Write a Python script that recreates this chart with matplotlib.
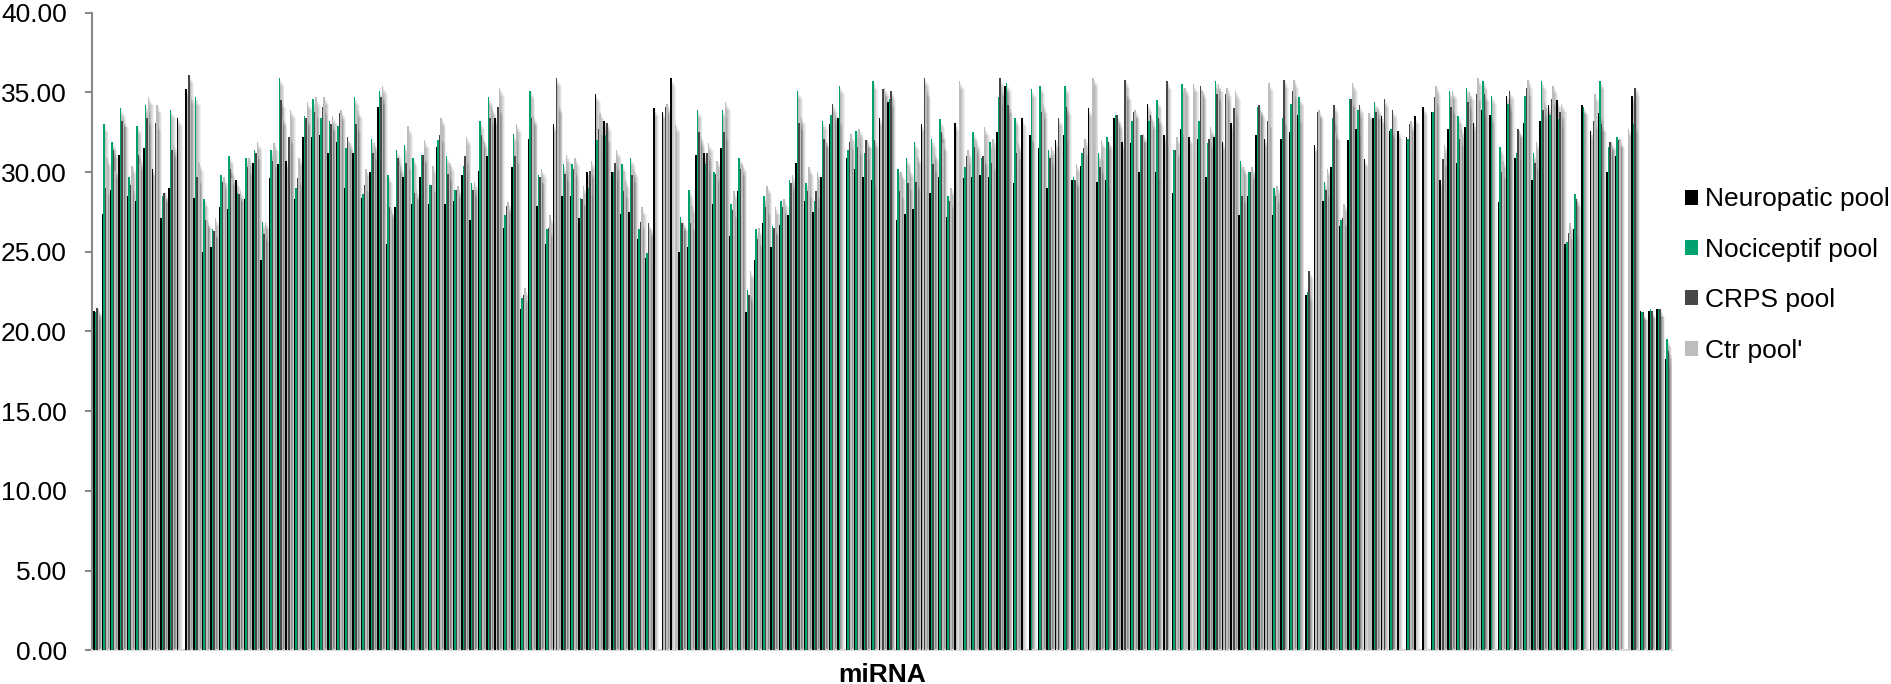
import numpy as np
import matplotlib
matplotlib.use("Agg")
import matplotlib.pyplot as plt

plt.rcParams['font.family'] = ['Liberation Sans', 'DejaVu Sans']

nan = np.nan

# Ct values per miRNA for each pool (blank cells kept as nan)
neuropatic = [
    21.3, 27.4, 28.9, 31.1, 28.5, 28.2, 31.5, 30.2, 27.1, 29.0,
    33.4, 35.2, 28.4, 25.0, 25.3, 27.8, 27.7, 29.5, 28.3, 30.6,
    24.5, 29.6, 30.5, 30.7, 28.3, 32.2, 32.2, 32.3, 31.2, 31.9,
    29.0, 31.2, 28.4, 30.0, 34.1, 25.5, 27.8, 29.7, 28.0, 29.7,
    28.0, 31.6, 28.0, 28.2, 29.8, 27.0, 30.1, 31.0, 33.4, 26.5,
    30.3, 21.4, 32.1, 27.9, 25.5, 33.0, 28.5, 28.5, 27.1, 30.0,
    34.9, 33.2, 30.0, 27.4, 27.5, 25.8, 24.6, 34.0, 33.8, 35.9,
    25.0, 25.3, 31.1, 31.2, 28.0, 31.5, 26.0, 28.8, 21.2, 24.5,
    26.8, 25.3, 26.7, 27.3, 30.6, 28.2, 27.5, 29.7, 33.0, 33.4,
    30.9, 30.2, 29.7, 29.5, 33.4, 34.4, 27.0, 27.4, 27.7, 33.0,
    28.7, 29.7, 27.2, 33.1, 29.6, 29.7, 29.8, 29.7, 32.5, 35.4,
    29.3, 33.4, 32.3, 31.5, 29.0, 32.0, 32.3, 29.5, 30.4, 34.0,
    29.4, 29.5, 33.4, 31.9, 31.8, 30.0, 34.3, 30.0, 32.3, 28.7,
    32.7, 32.2, 32.1, 29.7, 32.2, 31.9, 33.1, 27.3, 28.5, 32.3,
    32.1, 27.3, 32.1, 32.5, 33.6, 22.3, 31.7, 28.2, 30.3, 26.6,
    32.0, 32.7, 30.8, 33.4, 33.5, 32.6, 32.6, 32.2, 33.5, 34.1,
    33.8, 29.5, 32.7, 30.6, 32.8, 33.1, 33.9, 33.6, 28.1, 34.8,
    30.9, 33.1, 29.5, 33.2, 34.2, 34.5, 25.5, 26.4, 34.2, 32.6,
    33.7, 30.0, 31.0, nan, 34.8, 21.3, 21.3, 21.4, 18.3,
]
nociceptif = [
    21.2, 33.0, 31.9, 34.0, 29.7, 32.9, 34.2, nan, 28.5, 33.9,
    nan, nan, 34.7, 28.3, 26.4, 29.8, 31.0, 28.7, 30.9, 31.4,
    26.9, 31.4, 35.9, nan, 29.0, 33.5, 34.6, 33.4, 33.2, 32.9,
    31.5, 34.7, 28.6, 32.1, 35.1, 29.8, 31.4, 31.7, 30.9, 31.1,
    29.2, 32.0, 31.0, 28.9, 30.4, 29.3, 33.2, 34.7, nan, 27.3,
    32.4, 22.1, 35.1, 29.8, 26.4, nan, 30.5, 30.5, 28.4, 29.0,
    32.0, 32.3, 30.0, 30.5, 30.9, 26.4, 24.9, nan, nan, nan,
    27.2, 28.9, 33.9, 30.5, 30.0, 33.9, 28.0, 30.9, 22.6, 26.4,
    28.5, 26.6, 28.2, 29.5, 35.1, 29.3, 28.2, 33.2, 33.6, 35.4,
    31.4, 32.6, 31.2, 35.7, nan, 34.6, 30.2, 30.9, 31.9, nan,
    32.1, 33.3, 28.5, nan, 30.3, 32.5, 30.9, 31.9, 34.7, 35.6,
    33.4, nan, 35.2, 35.4, 31.4, nan, 35.4, 29.7, 31.2, nan,
    31.2, 32.2, 33.6, nan, 33.2, 32.3, 33.2, 34.5, nan, 31.4,
    35.5, nan, 33.2, 31.8, 35.7, nan, nan, 30.7, 30.0, 34.1,
    nan, 29.0, 33.4, 34.3, 34.7, 22.5, nan, 29.4, 33.4, 27.0,
    34.6, 33.9, nan, 34.4, nan, 32.7, nan, 32.1, nan, nan,
    33.8, nan, 35.1, 33.5, 35.3, nan, 35.7, 34.8, 31.6, 34.3,
    31.2, 34.8, 31.2, 35.7, 33.6, 33.3, 25.6, 28.6, 34.1, nan,
    35.7, 31.6, 32.2, nan, 33.0, 21.2, 21.4, 21.4, 19.5,
]
crps = [
    21.5, 29.0, 31.4, 33.2, 29.2, 31.1, 33.4, 33.1, 28.7, 31.4,
    nan, 36.1, 29.7, 27.0, 26.3, 29.4, 30.2, 28.6, 30.3, 31.2,
    26.1, 30.7, 34.5, 32.2, 29.6, 33.4, 33.8, 34.1, 33.0, 33.7,
    32.2, 33.0, 29.2, 31.2, 34.7, 27.8, 30.9, 30.6, 28.7, 31.1,
    29.2, 32.3, 29.9, 28.9, 31.0, 28.9, 32.3, 33.4, 34.1, 27.9,
    31.0, 22.3, 33.4, 29.7, 26.5, 35.9, 29.9, 30.2, 28.3, 30.1,
    32.7, 33.1, 30.6, 28.8, 29.8, 26.9, 26.8, nan, 34.1, nan,
    26.8, 26.8, 32.5, 31.2, 29.9, 32.5, 27.6, 30.2, 22.3, 25.8,
    27.8, 26.5, 27.8, 29.3, 33.1, 28.8, 28.8, 32.1, 34.3, nan,
    31.9, 31.6, 32.0, 32.0, 35.2, 35.1, 28.8, 29.3, 29.4, 35.9,
    30.5, 32.5, 28.2, nan, 31.0, 31.6, 31.0, 30.6, 35.9, 34.2,
    31.2, nan, nan, 33.8, 30.9, 33.4, 34.1, 29.5, 31.5, nan,
    30.3, 31.9, 33.6, 35.8, 33.8, 32.3, 33.6, 33.4, 35.7, 31.4,
    nan, nan, 35.4, 32.1, 34.9, 34.9, 34.0, 28.5, 30.0, 34.2,
    33.2, 28.5, 35.8, 35.1, nan, 23.8, 33.8, 28.9, 34.2, 27.1,
    34.6, 34.2, nan, 33.8, 34.6, 33.9, nan, 33.0, nan, nan,
    34.7, 30.8, 34.1, 32.1, 34.4, 34.9, 34.9, nan, 30.0, 35.1,
    32.7, 35.3, 30.6, 33.9, 34.6, 33.8, 26.2, 28.3, nan, 33.2,
    33.0, 31.9, 32.0, nan, 35.3, 21.2, 21.3, 21.4, 18.8,
]
ctr = [
    21.4, 30.9, 30.1, 33.3, 30.4, 30.6, 34.7, 34.2, 28.7, 31.7,
    nan, 34.8, 30.6, 27.0, 27.1, 29.7, 29.6, 28.8, 30.9, 31.9,
    26.9, 31.8, 33.4, 33.9, 30.9, 34.4, 34.7, 34.7, 33.5, 33.9,
    31.8, 33.9, 30.2, 31.8, 35.4, 27.6, 30.4, 32.9, 28.8, 32.0,
    30.4, 33.4, 30.6, 29.1, 32.2, 29.4, 32.0, 34.1, 35.3, 28.1,
    33.0, 22.7, 33.5, 30.2, 27.3, 34.2, 31.1, 30.9, 29.1, 30.7,
    33.7, nan, 31.4, 29.5, 30.2, 27.8, 26.4, nan, 34.3, 33.0,
    26.8, 27.9, 32.1, 31.8, 30.7, 34.4, 28.8, 30.5, 23.8, 26.5,
    29.1, 27.8, 28.3, 29.8, 33.5, 30.3, 30.0, 32.0, 33.7, nan,
    32.4, 32.7, 32.0, nan, 35.3, nan, 30.0, 30.2, 31.0, 35.2,
    31.2, 31.8, 29.0, 35.7, 31.4, 31.9, 32.8, 32.1, 35.2, nan,
    31.8, nan, nan, 34.2, 31.6, nan, nan, 30.5, 32.1, 35.9,
    32.0, nan, 33.2, 35.0, 33.9, 32.4, 33.2, nan, nan, 32.2,
    35.3, 35.5, 35.1, 32.8, 35.5, 35.3, 35.1, 30.3, 30.3, 33.9,
    35.6, 29.1, nan, 35.8, nan, nan, 33.9, 30.2, 32.5, 28.0,
    35.6, nan, 33.7, 34.1, nan, nan, nan, 33.2, nan, nan,
    35.4, 31.7, 35.1, 32.7, 35.0, 35.9, nan, nan, 30.7, nan,
    32.6, 35.8, 31.9, 34.4, 35.4, 34.3, 26.8, nan, nan, 34.9,
    nan, 31.9, 32.1, 32.7, nan, nan, nan, nan, nan,
]

series = [
    ("Neuropatic pool", neuropatic, "#000000"),
    ("Nociceptif pool", nociceptif, "#00a170"),
    ("CRPS pool", crps, "#474747"),
    ("Ctr pool'", ctr, "#bdbdbd"),
]

n = len(neuropatic)
x = np.arange(n)
w = 0.18

fig = plt.figure(figsize=(18.91, 6.84), dpi=100)
ax = fig.add_axes([92 / 1891, 33.7 / 684, 1580 / 1891, 637.6 / 684])

handles = []
for i, (name, vals, col) in enumerate(series):
    vals = np.asarray(vals, dtype=float)
    ok = ~np.isnan(vals)
    xs = x[ok] + (i - 1.5) * w
    # soft drop shadow to the right of each bar
    for k in range(1, 6):
        ax.bar(xs + 0.07 * k, vals[ok] - 0.1 * k, width=w + 0.07 * k,
               color="#000000", alpha=0.06, linewidth=0, zorder=1)
    b = ax.bar(xs, vals[ok], width=w, color=col, linewidth=0, zorder=3, label=name)
    handles.append(b)

ax.set_xlim(-0.5, n - 0.5)
ax.set_ylim(0, 40)
ax.set_yticks(np.arange(0, 41, 5))
ax.yaxis.set_major_formatter(matplotlib.ticker.FormatStrFormatter("%.2f"))
ax.tick_params(axis="y", labelsize=19, length=5, width=1.5, color="#898989", pad=13)
ax.set_xticks([])
for s in ["top", "right"]:
    ax.spines[s].set_visible(False)
ax.spines["left"].set_color("#898989")
ax.spines["left"].set_linewidth(1.5)
ax.spines["bottom"].set_color("#d9d9d9")
ax.spines["bottom"].set_linewidth(1.5)

ax.set_xlabel("miRNA", fontsize=19, fontweight="bold", labelpad=9.5)

fig.legend(handles=handles, loc="center left", bbox_to_anchor=(1661 / 1891, 1 - 275 / 684),
           frameon=False, fontsize=19, handlelength=0.5, handleheight=0.5,
           handletextpad=0.25, labelspacing=1.0, borderpad=0.4)

fig.savefig("out.png", dpi=100)
